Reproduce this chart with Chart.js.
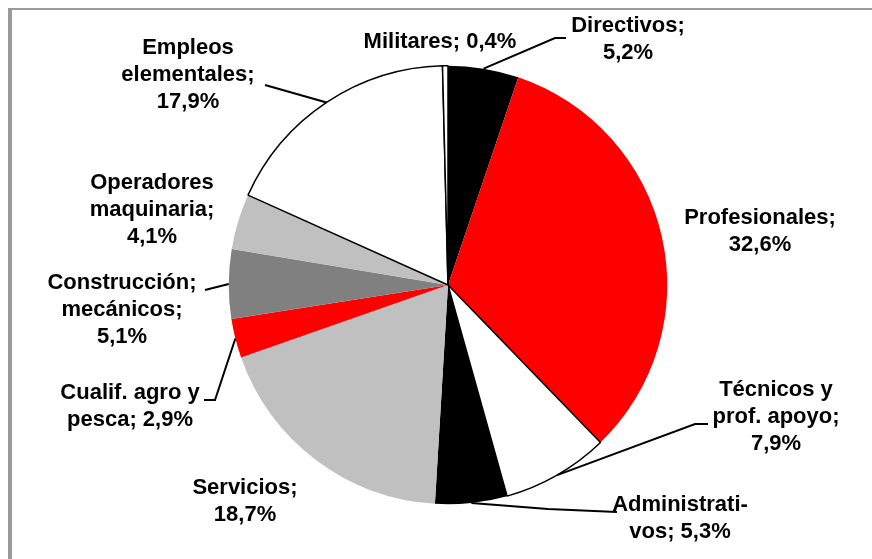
<!DOCTYPE html>
<html>
<head>
<meta charset="utf-8">
<script src="https://cdn.jsdelivr.net/npm/chart.js@4/dist/chart.umd.min.js"></script>
<style>
  html, body { margin: 0; padding: 0; background: #fff; }
  #wrap { position: relative; width: 872px; height: 559px; }
  #frame {
    position: absolute; left: 8px; top: 8px; right: 0; bottom: 0;
    border-top: 2px solid #9a9a9a; border-left: 4px solid #9a9a9a;
  }
</style>
</head>
<body>
<div id="wrap">
  <div id="frame"></div>
  <canvas id="chartOcupacion"></canvas>
</div>
<script>
// ── Datos ───────────────────────────────────────────────
const categorias = [
    'Directivos', 'Profesionales', 'Técnicos y\nprof. apoyo', 'Administrati-\nvos',
    'Servicios', 'Cualif. agro y\npesca', 'Construcción;\nmecánicos',
    'Operadores\nmaquinaria', 'Empleos\nelementales', 'Militares',
];
const porcentajes = [5.2, 32.6, 7.9, 5.3, 18.7, 2.9, 5.1, 4.1, 17.9, 0.4];
const colores     = ['#000000', '#ff0000', '#ffffff', '#000000', '#c0c0c0',
                     '#ff0000', '#808080', '#c0c0c0', '#ffffff', '#ffffff'];

// ── Posición de etiquetas (relativa al centro) y líneas guía ──
// [dx, dy, mismaLinea, puntos de la guía desde el borde hacia el texto]
const etiquetas = [
    [180, -259, false, [[107, -247], [118, -247]]],
    [312, -67,  false, null],
    [328, 105,  false, [[247, 139], [260, 139]]],
    [232, 220,  true,  [[100, 224], [169, 227]]],
    [-203, 203, false, null],
    [-318, 108, true,  [[-233, 115], [-244, 115]]],
    [-326, -2,  false, [[-243, 5]]],
    [-296, -102, false, null],
    [-260, -237, false, [[-183, -200]]],
    [-8, -243,  true,  null],
];

const fmt = v => v.toFixed(1).replace('.', ',') + '%';

const etiquetasPlugin = {
    id: 'etiquetas',
    afterDatasetsDraw(chart) {
        const ctx = chart.ctx;
        const arcs = chart.getDatasetMeta(0).data;
        ctx.save();
        arcs.forEach((arc, i) => {
            const [dx, dy, inline, guia] = etiquetas[i];
            const { x: cx, y: cy, startAngle, endAngle, outerRadius } = arc;
            if (guia) {
                const mid = (startAngle + endAngle) / 2;
                ctx.beginPath();
                ctx.moveTo(cx + Math.cos(mid) * outerRadius, cy + Math.sin(mid) * outerRadius);
                guia.forEach(([px, py]) => ctx.lineTo(cx + px, cy + py));
                ctx.strokeStyle = '#000';
                ctx.lineWidth = 2;
                ctx.stroke();
            }
            const nombre = categorias[i];
            const texto = nombre + (nombre.endsWith(';') ? '' : ';') + (inline ? ' ' : '\n') + fmt(porcentajes[i]);
            const lineas = texto.replace(';;', ';').split('\n');
            ctx.font = 'bold 22px "Liberation Sans", Arial, sans-serif';
            ctx.fillStyle = '#000';
            ctx.textAlign = 'center';
            ctx.textBaseline = 'middle';
            lineas.forEach((l, k) => ctx.fillText(l, cx + dx, cy + dy + k * 27));
        });
        ctx.restore();
    },
};

new Chart(document.getElementById('chartOcupacion').getContext('2d'), {
    type: 'pie',
    data: {
        labels: categorias,
        datasets: [{
            data:            porcentajes,
            backgroundColor: colores,
            borderColor:     colores.map(c => c === '#ffffff' ? '#000000' : c),
            borderWidth:     colores.map(c => c === '#ffffff' ? 1.5 : 0),
        }],
    },
    options: {
        responsive:          true,
        maintainAspectRatio: false,
        animation:           false,
        layout: { padding: { left: 228, right: 204, top: 65, bottom: 54 } },
        plugins: {
            legend:  { display: false },
            tooltip: { enabled: false },
        },
    },
    plugins: [etiquetasPlugin],
});
</script>
</body>
</html>
